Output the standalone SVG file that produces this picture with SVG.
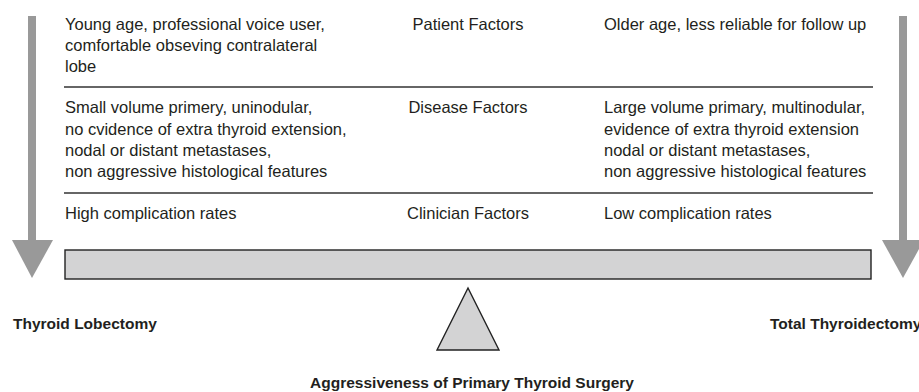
<svg xmlns="http://www.w3.org/2000/svg" width="919" height="392" viewBox="0 0 919 392">
<style>
.t{font-family:"Liberation Sans",Arial,sans-serif;font-size:16.5px;fill:#231f20}
.m{text-anchor:middle}
.b{font-family:"Liberation Sans",Arial,sans-serif;font-size:15.5px;font-weight:bold;fill:#231f20}
.sep{stroke:#333;stroke-width:1.4}
.arrow{fill:#999}
.grey{fill:#d3d3d4;stroke:#222;stroke-width:1.4}
</style>
<rect width="919" height="392" fill="#fff"/>
<g id="arrow-left">
<rect class="arrow" x="28" y="16" width="8" height="226"/>
<polygon class="arrow" points="12,240 53,240 32,278"/>
</g>
<g id="arrow-right">
<rect class="arrow" x="899" y="16" width="8" height="226"/>
<polygon class="arrow" points="882,240 924,240 903,278"/>
</g>
<g id="connectors">
<line class="sep" x1="64" y1="87" x2="873" y2="87"/>
<line class="sep" x1="64" y1="193" x2="873" y2="193"/>
</g>
<g id="patient-factors">
<text class="t" x="65" y="30">Young age, professional voice user,</text>
<text class="t" x="65" y="51">comfortable obseving contralateral</text>
<text class="t" x="65" y="72">lobe</text>
<text class="t m" x="468" y="30">Patient Factors</text>
<text class="t" x="604" y="30">Older age, less reliable for follow up</text>
</g>
<g id="disease-factors">
<text class="t" x="65" y="113">Small volume primery, uninodular,</text>
<text class="t" x="65" y="135">no cvidence of extra thyroid extension,</text>
<text class="t" x="65" y="156">nodal or distant metastases,</text>
<text class="t" x="65" y="177">non aggressive histological features</text>
<text class="t m" x="468" y="113">Disease Factors</text>
<text class="t" x="604" y="113">Large volume primary, multinodular,</text>
<text class="t" x="604" y="135">evidence of extra thyroid extension</text>
<text class="t" x="604" y="156">nodal or distant metastases,</text>
<text class="t" x="604" y="177">non aggressive histological features</text>
</g>
<g id="clinician-factors">
<text class="t" x="65" y="219">High complication rates</text>
<text class="t m" x="468" y="219">Clinician Factors</text>
<text class="t" x="604" y="219">Low complication rates</text>
</g>
<g id="balance-bar">
<rect class="grey" x="65" y="250" width="806" height="29"/>
</g>
<g id="fulcrum">
<polygon class="grey" points="437,350 468,288 499,350"/>
</g>
<g id="labels">
<text class="b" x="13" y="329">Thyroid Lobectomy</text>
<text class="b" x="770" y="329">Total Thyroidectomy</text>
<text class="b m" x="472" y="388">Aggressiveness of Primary Thyroid Surgery</text>
</g>
</svg>
